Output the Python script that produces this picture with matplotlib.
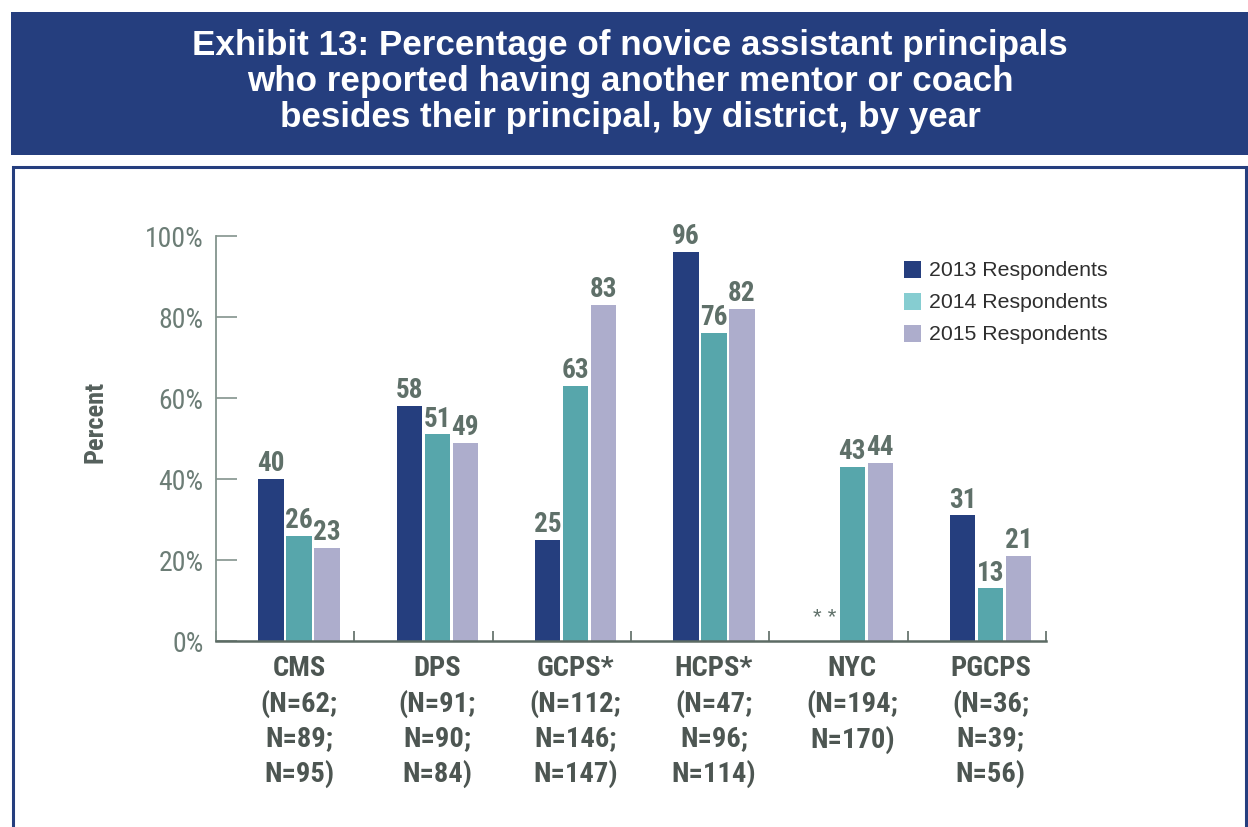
import matplotlib
matplotlib.use("Agg")
import matplotlib.pyplot as plt
from matplotlib import font_manager
from matplotlib.patches import Rectangle
import numpy as np

# ---------------- data ----------------
districts = ["CMS", "DPS", "GCPS*", "HCPS*", "NYC", "PGCPS"]
n_labels = ["(N=62;\nN=89;\nN=95)", "(N=91;\nN=90;\nN=84)", "(N=112;\nN=146;\nN=147)",
            "(N=47;\nN=96;\nN=114)", "(N=194;\nN=170)", "(N=36;\nN=39;\nN=56)"]
series_names = ["2013 Respondents", "2014 Respondents", "2015 Respondents"]
v2013 = [40, 58, 25, 96, None, 31]
v2014 = [26, 51, 63, 76, 43, 13]
v2015 = [23, 49, 83, 82, 44, 21]
yticks = [0, 20, 40, 60, 80, 100]
ytick_labels = ["0%", "20%", "40%", "60%", "80%", "100%"]
title_lines = ["Exhibit 13: Percentage of novice assistant principals",
               "who reported having another mentor or coach",
               "besides their principal, by district, by year"]

bar_colors = ["#253e7e", "#57a6ab", "#adadcc"]
legend_colors = ["#253e7e", "#86cdd1", "#adadcc"]
navy = "#253e7e"

def have(name):
    try:
        font_manager.findfont(font_manager.FontProperties(family=name), fallback_to_default=False)
        return True
    except Exception:
        return False

narrow = "Liberation Sans Narrow" if have("Liberation Sans Narrow") else "Roboto Condensed" if have("Roboto Condensed") else "Liberation Sans"
regular = "Liberation Sans" if have("Liberation Sans") else "DejaVu Sans"

W, H = 1248, 828
fig = plt.figure(figsize=(W / 100, H / 100), dpi=100)
fig.patch.set_facecolor("white")

def fx(px):
    return px / W

def fy(py):
    return 1 - py / H

# header band
fig.add_artist(Rectangle((fx(11), fy(156)), fx(1248 - 11), (156 - 13) / H,
                         transform=fig.transFigure, facecolor=navy, edgecolor="none", zorder=0))
for i, (line, yc) in enumerate(zip(title_lines, [45, 81, 117])):
    fig.text(fx(630), fy(yc), line, ha="center", va="center", color="white",
             fontsize=25.2, fontweight="bold", family=[regular, "DejaVu Sans"])

# panel border
fig.add_artist(Rectangle((fx(12.5), fy(900)), fx(1246 - 12.5), (900 - 168) / H,
                         transform=fig.transFigure, facecolor="none", edgecolor=navy,
                         linewidth=2.2, zorder=0))

# axes
left, right = 216, 1046
top, bottom = 237, 642
ax = fig.add_axes([fx(left), fy(bottom), fx(right - left), (bottom - top) / H])
ax.set_xlim(-0.5, len(districts) - 0.5)
ax.set_ylim(0, 100)

pitch = 0.2025
width = 0.181
offset = 0.1
x = np.arange(len(districts))
series = [v2013, v2014, v2015]
label_color = "#5f7069"
for j, vals in enumerate(series):
    xs = x + offset + (j - 1) * pitch
    for xi, v in zip(xs, vals):
        if v is None:
            ax.text(xi, 3.2, "* *", ha="center", va="bottom", fontsize=16,
                    color=label_color, family=[regular, "DejaVu Sans"])
            continue
        ax.bar(xi, v, width=width, color=bar_colors[j], linewidth=0, zorder=2)
        ax.text(xi, v + 0.7, str(v), ha="center", va="bottom", fontsize=19.5,
                fontweight="bold", color=label_color, family=[narrow, "DejaVu Sans"])

for s in ["top", "right"]:
    ax.spines[s].set_visible(False)
ax.spines["left"].set_color("#84948d")
ax.spines["left"].set_linewidth(1.3)
ax.spines["bottom"].set_color("#5c6b64")
ax.spines["bottom"].set_linewidth(1.8)

ax.set_yticks(yticks)
ax.set_yticklabels(ytick_labels, family=[narrow, "DejaVu Sans"], fontsize=20, color="#6c7d76")
ax.tick_params(axis="y", direction="in", length=15, width=1.2, color="#84948d", pad=9)

ax.set_xticks(np.arange(len(districts) + 1) - 0.5)
ax.set_xticklabels([])
ax.tick_params(axis="x", which="major", direction="in", length=7.5, width=1.2, color="#5c6b64")
ax.set_xticks(x + offset, minor=True)
ax.set_xticklabels([d + "\n" + n for d, n in zip(districts, n_labels)], minor=True,
                   family=[narrow, "DejaVu Sans"], fontsize=20.5, fontweight="bold",
                   color="#4d5652", linespacing=1.34, va="top")
ax.tick_params(axis="x", which="minor", length=0, pad=9.5)

fig.text(fx(96), fy(422), "Percent", rotation=90, ha="center", va="center",
         fontsize=19, fontweight="bold", color="#55605c", family=[narrow, "DejaVu Sans"])

# legend
for j, name in enumerate(series_names):
    yc = 270 + 32 * j
    fig.add_artist(Rectangle((fx(904), fy(yc + 8.5)), fx(17), 17 / H,
                             transform=fig.transFigure, facecolor=legend_colors[j],
                             edgecolor="none"))
    fig.text(fx(929), fy(yc + 1), name, ha="left", va="center", fontsize=15.3,
             color="#2e2e2e", family=[regular, "DejaVu Sans"])

fig.savefig("out.png", dpi=100, facecolor="white")
